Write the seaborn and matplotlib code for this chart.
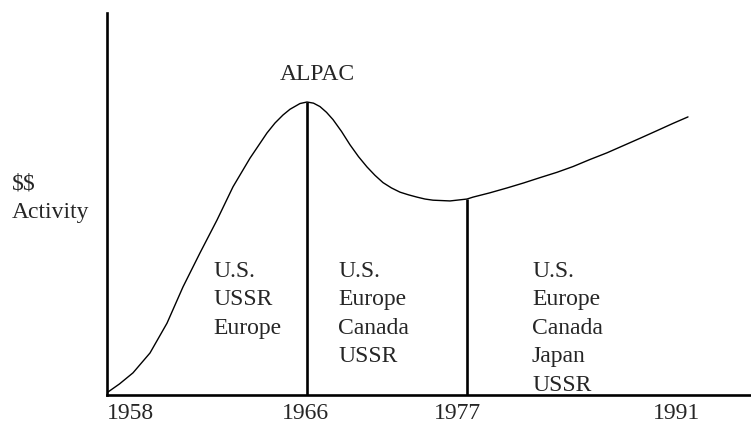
import numpy as np
import pandas as pd
import matplotlib.pyplot as plt
import seaborn as sns

# schematic time axis (not linear in years) and relative $$ activity
pos = [0.0, 0.5, 1.04, 1.72, 2.4, 3.04, 3.72, 4.4, 5.04, 5.72, 6.4, 6.72, 7.04, 7.32,
       7.72, 8.0, 8.26, 8.52, 8.78, 9.04, 9.38, 9.72, 10.06, 10.4, 10.72, 11.04,
       11.38, 11.72, 12.06, 12.4, 12.72, 13.04, 13.72, 14.4, 14.64, 15.3, 16.0,
       16.66, 17.32, 18.0, 18.64, 19.3, 20.0, 20.66, 21.32, 22.0, 22.64, 23.24]
activity = [0.6, 2.9, 5.8, 11.0, 18.8, 28.3, 37.2, 45.8, 54.5, 62.0, 68.6, 71.2, 73.3, 74.8,
            76.3, 76.7, 76.4, 75.5, 74.0, 72.1, 69.0, 65.5, 62.4, 59.7, 57.5, 55.6,
            54.2, 53.1, 52.4, 51.8, 51.3, 51.0, 50.8, 51.3, 51.8, 52.9, 54.2,
            55.5, 56.9, 58.3, 59.8, 61.6, 63.4, 65.3, 67.2, 69.2, 71.1, 72.8]

years = ['1958', '1966', '1977', '1991']
year_pos = [0.0, 7.92, 14.0, 22.8]

# era boundaries: 1966 (ALPAC report) and 1977
boundaries = [8.0, 14.4]

regions = ['U.S.\nUSSR\nEurope',
           'U.S.\nEurope\nCanada\nUSSR',
           'U.S.\nEurope\nCanada\nJapan\nUSSR']
region_pos = [4.24, 9.24, 17.0]

df = pd.DataFrame({'pos': pos, 'activity': activity})

sns.set_style("white")
plt.rcParams['font.family'] = ['Liberation Serif', 'DejaVu Serif']
plt.rcParams['text.parse_math'] = False

fig = plt.figure(figsize=(7.51, 4.23), dpi=100)
ax = fig.add_axes([107 / 751, 28 / 423, 644 / 751, 382 / 423])

sns.lineplot(data=df, x='pos', y='activity', color='black', linewidth=1.0,
             estimator=None, ax=ax)

tops = np.interp(boundaries, pos, activity)
ax.vlines(boundaries, 0, tops, color='black', linewidth=1.9)

ax.text(8.4, 82.5, 'ALPAC', ha='center', va='baseline', fontsize=17)

for label, x in zip(regions, region_pos):
    ax.text(x, 35.2, label, ha='left', va='top', fontsize=17, linespacing=1.47)

fig.text(12 / 751, 1 - 173 / 423, '$$\nActivity', ha='left', va='top',
         fontsize=17, linespacing=1.47)

ax.set_xlim(0, 25.76)
ax.set_ylim(0, 100)
ax.set_xticks(year_pos, years, fontsize=17)
ax.get_xticklabels()[0].set_ha('left')
ax.tick_params(axis='x', length=0, pad=6)
ax.set_yticks([])
ax.set_xlabel('')
ax.set_ylabel('')

for side in ['top', 'right']:
    ax.spines[side].set_visible(False)
for side in ['left', 'bottom']:
    ax.spines[side].set_linewidth(1.9)
    ax.spines[side].set_color('black')

plt.savefig('out.png', dpi=100)
